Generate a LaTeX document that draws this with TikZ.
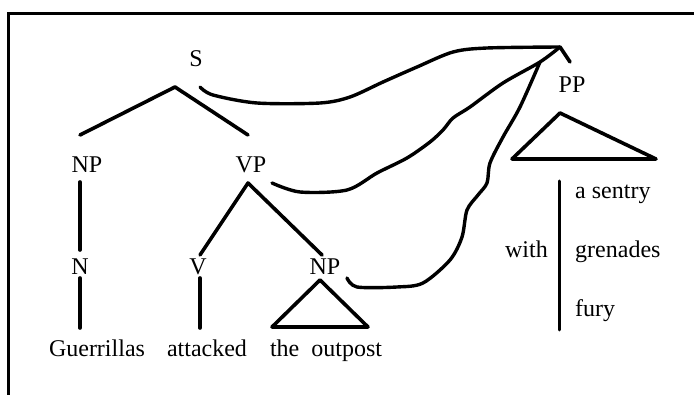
\documentclass[tikz,border=0pt]{standalone}
\usepackage{fontspec}
\setmainfont{Liberation Serif}
\begin{document}
\begin{tikzpicture}[x=1pt,y=-1pt,
  lbl/.style={anchor=base,inner sep=0pt,font=\fontsize{24}{28}\selectfont},
  lbll/.style={lbl,anchor=base west},
  lblr/.style={lbl,anchor=base east},
  branch/.style={line width=3.6pt,line cap=round,line join=round},
  wavy/.style={line width=3.4pt,line cap=round,line join=round},
  frame/.style={line width=3pt}]
\useasboundingbox (0,0) rectangle (694,395);
% frame
\coordinate (fTL) at (8,14);
\coordinate (fTR) at (700,14);
\coordinate (fBL) at (8,400);
\draw[frame] (fTR) -- (fTL) -- (fBL);
% labels
\node[lbl] (S) at (196,67) {S};
\node[lbl] (NP1) at (87,173) {NP};
\node[lbl] (VP) at (251,173) {VP};
\node[lbl] (N) at (80,275) {N};
\node[lbl] (V) at (198,275) {V};
\node[lbl] (NP2) at (325,275) {NP};
\node[lbl] (w1) at (97,357) {Guerrillas};
\node[lbl] (w2) at (207,357) {attacked};
\node[lbl] (w3) at (326,357) {the\hspace{0.5em}outpost};
\node[lbl] (PP) at (572,93) {PP};
\node[lblr] (with) at (548,258) {with};
\node[lbll] (o1) at (575,199) {a sentry};
\node[lbll] (o2) at (575,258) {grenades};
\node[lbll] (o3) at (575,317) {fury};
% tree coordinates
\coordinate (Sa) at (175,87);
\coordinate (NPt) at (80,135);
\coordinate (VPt) at (248,135);
\coordinate (NPb) at (80,182);
\coordinate (Nt) at (80,250);
\coordinate (Nb) at (80,278);
\coordinate (Gt) at (80,328);
\coordinate (VPa) at (248,183);
\coordinate (Vt) at (200,255);
\coordinate (NP2t) at (322,255);
\coordinate (Vb) at (200,278);
\coordinate (At) at (200,328);
\coordinate (T1a) at (320,280);
\coordinate (T1l) at (272,327);
\coordinate (T1r) at (368,327);
\coordinate (PPa) at (560,47);
\coordinate (PPs) at (570,62);
\coordinate (T2a) at (560,113);
\coordinate (T2l) at (512,159);
\coordinate (T2r) at (656,159);
\coordinate (Bt) at (559,181);
\coordinate (Bb) at (559,330);
\coordinate (Sc) at (200,87);
\coordinate (VPc) at (272,183);
\coordinate (NPc) at (347,278);
\coordinate (J) at (540,62);
% branches
\draw[branch] (NPt) -- (Sa) -- (VPt);
\draw[branch] (NPb) -- (Nt);
\draw[branch] (Nb) -- (Gt);
\draw[branch] (Vt) -- (VPa) -- (NP2t);
\draw[branch] (Vb) -- (At);
\draw[branch] (T1a) -- (T1l) -- (T1r) -- cycle;
\draw[branch] (PPa) -- (PPs);
\draw[branch] (T2a) -- (T2l) -- (T2r) -- cycle;
\draw[branch,line width=3pt] (Bt) -- (Bb);
% wavy connectors
\draw[wavy] plot[smooth,tension=0.5] coordinates {(Sc) (213,95) (257,103) (320,103) (350,97) (383,82) (417,67) (453,52) (487,48) (PPa)};
\draw[wavy] plot[smooth,tension=0.5] coordinates {(VPc) (300,192) (347,190) (377,173) (407,158) (430,142) (443,130) (453,118) (470,107) (503,83) (J) (PPa)};
\draw[wavy] plot[smooth,tension=0.5] coordinates {(NPc) (357,287) (397,287) (423,283) (450,260) (462,237) (467,210) (478,195) (487,183) (490,163) (503,137) (520,107) (J)};
\end{tikzpicture}
\end{document}
